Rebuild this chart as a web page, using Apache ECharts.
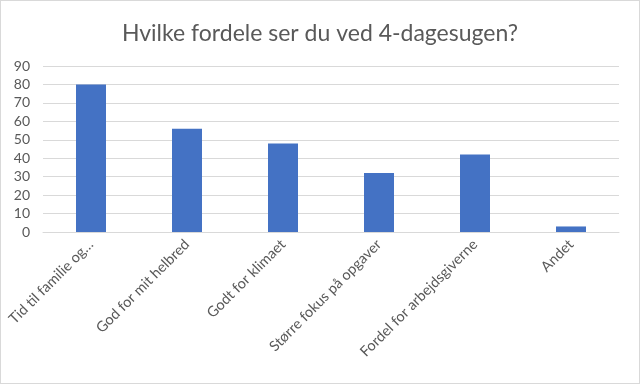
<!DOCTYPE html>
<html><head><meta charset="utf-8">
<script src="https://cdn.jsdelivr.net/npm/echarts@6/dist/echarts.min.js"></script>
<style>html,body{margin:0;padding:0;background:#fff}#c{width:640px;height:384px;box-sizing:border-box;border:1px solid #d9d9d9}</style>
</head><body><div id="c"></div>
<script>
const categories = ["Tid til familie og…", "God for mit helbred", "Godt for klimaet", "Større fokus på opgaver", "Fordel for arbejdsgiverne", "Andet"];
const values = [80, 56, 48, 32, 42, 3];
const chart = echarts.init(document.getElementById('c'));
chart.setOption({
  animation: false,
  title: { text: "Hvilke fordele ser du ved 4-dagesugen?", left: 'center', top: 16,
    textStyle: { fontFamily: 'Lato', fontSize: 23, fontWeight: 'normal', color: '#595959' } },
  grid: { left: 42, right: 20, top: 65, bottom: 151 },
  xAxis: { type: 'category', data: categories,
    axisLine: { lineStyle: { color: '#d9d9d9' } }, axisTick: { show: false },
    axisLabel: { rotate: 45, interval: 0, margin: 10, fontFamily: 'Lato', fontSize: 14.5, color: '#595959' } },
  yAxis: { type: 'value', min: 0, max: 90, interval: 10,
    axisLine: { show: false }, axisTick: { show: false },
    splitLine: { lineStyle: { color: '#d9d9d9' } },
    axisLabel: { fontFamily: 'Lato', fontSize: 14, color: '#595959', margin: 13 } },
  series: [{ type: 'bar', data: values, barWidth: 30, itemStyle: { color: '#4472c4' } }]
});
</script></body></html>
